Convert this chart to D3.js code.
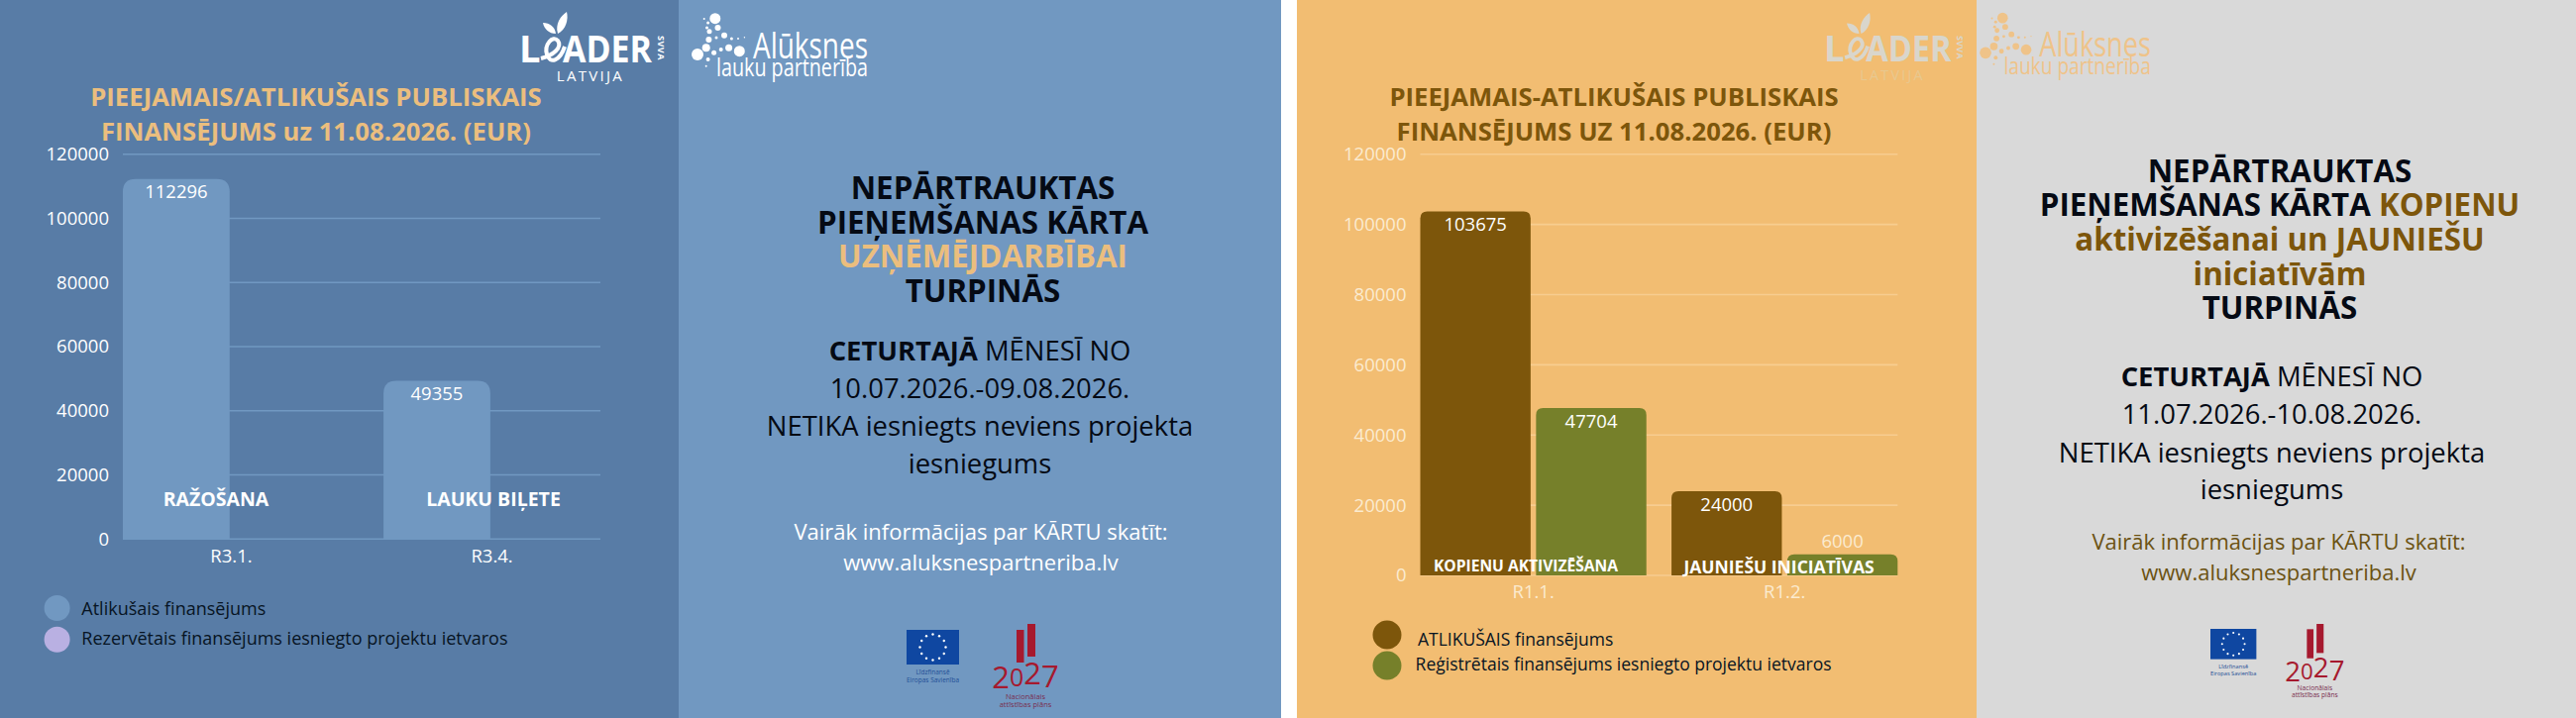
<!DOCTYPE html>
<html>
<head>
<meta charset="utf-8">
<script src="https://cdn.jsdelivr.net/npm/d3@7"></script>
<style>
  html, body { margin: 0; padding: 0; background: #fff; }
  svg { display: block; }
  text { font-family: "Open Sans", sans-serif; }
</style>
</head>
<body>
<div id="chart-container"></div>
<script>
// Data, left poster
const kartasA = ["R3.1.", "R3.4."];
const atlikusaisA = [112296, 49355];
const rezervetaisA = [0, 0];
const nosaukumiA = ["RAŽOŠANA", "LAUKU BIĻETE"];

// Data, right poster
const kartasB = ["R1.1.", "R1.2."];
const atlikusaisB = [103675, 24000];
const registretaisB = [47704, 6000];
const nosaukumiB = ["KOPIENU AKTIVIZĒŠANA", "JAUNIEŠU INICIATĪVAS"];

const yTicks = [0, 20000, 40000, 60000, 80000, 100000, 120000];

const width = 2600;
const height = 725;

const svg = d3.select("#chart-container")
    .append("svg")
    .attr("width", width)
    .attr("height", height);

// Panels
const panels = [
    { x: 0, w: 685, c: "#587ca6" },
    { x: 685, w: 608, c: "#7198c1" },
    { x: 1309, w: 686, c: "#f2bd72" },
    { x: 1995, w: 605, c: "#d9d9d9" }
];
svg.selectAll("rect.panel").data(panels).join("rect")
    .attr("class", "panel")
    .attr("x", d => d.x).attr("y", 0)
    .attr("width", d => d.w).attr("height", height)
    .attr("fill", d => d.c);

function topRounded(x, y, w, h, r) {
    r = Math.min(r, h, w / 2);
    return `M${x},${y + h}V${y + r}Q${x},${y} ${x + r},${y}H${x + w - r}Q${x + w},${y} ${x + w},${y + r}V${y + h}Z`;
}

function barChart(o) {
    const g = svg.append("g");
    const x0 = d3.scaleBand().domain(o.categories).range(o.xRange).paddingInner(o.groupGap);
    const x1 = d3.scaleBand().domain(d3.range(o.series.length)).range([0, x0.bandwidth()]).paddingInner(o.barGap);
    const y = d3.scaleLinear().domain([0, 120000]).range(o.yRange);

    // grid
    g.selectAll("line.grid").data(yTicks).join("line")
        .attr("x1", o.xRange[0]).attr("x2", o.xRange[1])
        .attr("y1", d => y(d)).attr("y2", d => y(d))
        .attr("stroke", o.gridColor).attr("stroke-width", 1.6);

    // bars
    o.series.forEach((s, i) => {
        const data = s.values.map((v, j) => ({ v, cat: o.categories[j] })).filter(d => d.v > 0);
        g.selectAll(null).data(data).join("path")
            .attr("d", d => topRounded(x0(d.cat) + x1(i), y(d.v), x1.bandwidth(), y(0) - y(d.v), o.radius))
            .attr("fill", s.color);
        g.selectAll(null).data(data).join("text")
            .attr("x", d => x0(d.cat) + x1(i) + x1.bandwidth() / 2)
            .attr("y", d => d.v < 10000 ? y(d.v) - 13 : y(d.v) + 13)
            .attr("dy", "0.36em")
            .attr("text-anchor", "middle")
            .attr("font-size", 18.5)
            .attr("fill", d => d.v < 10000 ? o.tickColor : "#fff")
            .text(d => d.v);
    });

    // axes
    const yAxis = g.append("g")
        .attr("transform", `translate(${o.xRange[0]},0)`)
        .call(d3.axisLeft(y).tickValues(yTicks).tickSize(0).tickPadding(o.yPad).tickFormat(d3.format("d")));
    const xAxis = g.append("g")
        .attr("transform", `translate(0,${o.yRange[0]})`)
        .call(d3.axisBottom(x0).tickSize(0).tickPadding(o.xPad));
    [yAxis, xAxis].forEach(a => {
        a.select(".domain").remove();
        a.selectAll("text")
            .attr("font-size", 18.5)
            .attr("font-family", "Open Sans")
            .attr("fill", o.tickColor);
    });

    // title
    g.selectAll(null).data(o.title).join("text")
        .attr("x", o.titleX)
        .attr("y", (d, i) => 98 + i * 35)
        .attr("dy", "0.36em")
        .attr("text-anchor", "middle")
        .attr("font-size", 25.7)
        .attr("font-weight", 700)
        .attr("fill", o.titleColor)
        .text(d => d);

    // labels over the bars
    g.selectAll(null).data(o.names).join("text")
        .attr("x", (d, i) => o.nameX[i])
        .attr("y", (d, i) => o.nameY[i])
        .attr("dy", "0.36em")
        .attr("text-anchor", "middle")
        .attr("font-size", (d, i) => o.nameSize[i])
        .attr("font-weight", 700)
        .attr("fill", "#fff")
        .text(d => d);

    // legend
    g.selectAll(null).data(o.series).join("ellipse")
        .attr("cx", o.legendX)
        .attr("cy", (d, i) => o.legendY[i])
        .attr("rx", o.legendR)
        .attr("ry", o.legendR)
        .attr("fill", d => d.color);
    g.selectAll(null).data(o.series).join("text")
        .attr("x", (d, i) => o.legendTextX[i])
        .attr("y", (d, i) => o.legendTextY[i])
        .attr("dy", "0.36em")
        .attr("font-size", o.legendSize)
        .attr("fill", "#071423")
        .text(d => d.name);
}

barChart({
    categories: kartasA,
    series: [
        { name: "Atlikušais finansējums", values: atlikusaisA, color: "#7198c1" },
        { name: "Rezervētais finansējums iesniegto projektu ietvaros", values: rezervetaisA, color: "#b9b0e2" }
    ],
    names: nosaukumiA,
    xRange: [124, 606], yRange: [544.3, 155.7],
    groupGap: 0.168, barGap: 0.03, radius: 13,
    gridColor: "#7198c1", tickColor: "#fff", yPad: 14, xPad: 11,
    title: ["PIEEJAMAIS/ATLIKUŠAIS PUBLISKAIS", "FINANSĒJUMS uz 11.08.2026. (EUR)"],
    titleX: 319, titleColor: "#ebbe7e",
    nameX: [218, 498], nameY: [504, 504], nameSize: [19.5, 19.5],
    legendX: 57.6, legendY: [614, 645.7], legendR: 13,
    legendTextX: [82.3, 82.3], legendTextY: [615, 645], legendSize: 18
});

barChart({
    categories: kartasB,
    series: [
        { name: "ATLIKUŠAIS finansējums", values: atlikusaisB, color: "#7d560b" },
        { name: "Reģistrētais finansējums iesniegto projektu ietvaros", values: registretaisB, color: "#76802a" }
    ],
    names: nosaukumiB,
    xRange: [1433.5, 1915.3], yRange: [581, 155.7],
    groupGap: 0.1, barGap: 0.047, radius: 7,
    gridColor: "#f7cd90", tickColor: "#fbebd0", yPad: 14, xPad: 10,
    title: ["PIEEJAMAIS-ATLIKUŠAIS PUBLISKAIS", "FINANSĒJUMS UZ 11.08.2026. (EUR)"],
    titleX: 1629, titleColor: "#7d560b",
    nameX: [1540, 1795.6], nameY: [571, 573], nameSize: [15.6, 17.5],
    legendX: 1400, legendY: [641, 672], legendR: 14.5,
    legendTextX: [1431, 1428.6], legendTextY: [645.7, 670.7], legendSize: 17.5
});

// Text blocks
const black = "#050a14";
const amber = "#ebbe7e";
const brown = "#7d560b";
const infoA = [
    { y: 190, s: 31.3, x: 992, p: [["NEPĀRTRAUKTAS", black, 700]] },
    { y: 224.5, s: 31.3, x: 992, p: [["PIEŅEMŠANAS KĀRTA", black, 700]] },
    { y: 259, s: 31.3, x: 992, p: [["UZŅĒMĒJDARBĪBAI", amber, 700]] },
    { y: 293.5, s: 31.3, x: 992, p: [["TURPINĀS", black, 700]] },
    { y: 354, s: 27.4, x: 989, p: [["CETURTAJĀ ", black, 700], ["MĒNESĪ NO", black, 400]] },
    { y: 392, s: 27.4, x: 989, p: [["10.07.2026.-09.08.2026.", black, 400]] },
    { y: 430, s: 27.4, x: 989, p: [["NETIKA iesniegts neviens projekta", black, 400]] },
    { y: 468, s: 27.4, x: 989, p: [["iesniegums", black, 400]] },
    { y: 537, s: 22, x: 990, p: [["Vairāk informācijas par KĀRTU skatīt:", "#fff", 400]] },
    { y: 568, s: 22, x: 990, p: [["www.aluksnespartneriba.lv", "#fff", 400]] }
];
const infoB = [
    { y: 172.7, s: 31.3, x: 2301, p: [["NEPĀRTRAUKTAS", black, 700]] },
    { y: 207, s: 31.3, x: 2301, p: [["PIEŅEMŠANAS KĀRTA ", black, 700], ["KOPIENU", brown, 700]] },
    { y: 241.7, s: 31.3, x: 2301, p: [["aktivizēšanai un JAUNIEŠU", brown, 700]] },
    { y: 276.7, s: 31.3, x: 2301, p: [["iniciatīvām", brown, 700]] },
    { y: 310.7, s: 31.3, x: 2301, p: [["TURPINĀS", black, 700]] },
    { y: 380, s: 27.4, x: 2293, p: [["CETURTAJĀ ", black, 700], ["MĒNESĪ NO", black, 400]] },
    { y: 418, s: 27.4, x: 2293, p: [["11.07.2026.-10.08.2026.", black, 400]] },
    { y: 456.7, s: 27.4, x: 2293, p: [["NETIKA iesniegts neviens projekta", black, 400]] },
    { y: 494, s: 27.4, x: 2293, p: [["iesniegums", black, 400]] },
    { y: 547, s: 22, x: 2300, p: [["Vairāk informācijas par KĀRTU skatīt:", "#6b5212", 400]] },
    { y: 578, s: 22, x: 2300, p: [["www.aluksnespartneriba.lv", "#6b5212", 400]] }
];

function infoBlock(lines) {
    const t = svg.append("g").selectAll("text").data(lines).join("text")
        .attr("x", d => d.x)
        .attr("y", d => d.y)
        .attr("dy", "0.36em")
        .attr("text-anchor", "middle")
        .attr("font-size", d => d.s);
    t.selectAll("tspan").data(d => d.p).join("tspan")
        .attr("fill", d => d[1])
        .attr("font-weight", d => d[2])
        .text(d => d[0]);
}
infoBlock(infoA);
infoBlock(infoB);

// LEADER logo
function leaderLogo(x, y, s, c, c2) {
    const g = svg.append("g").attr("transform", `translate(${x},${y}) scale(${s})`);
    g.append("text").attr("x", 0).attr("y", 51).attr("font-size", 38).attr("font-weight", 700).attr("fill", c).text("L");
    g.append("text").attr("x", 44).attr("y", 51).attr("font-size", 38).attr("font-weight", 700).attr("fill", c)
        .attr("textLength", 90).attr("lengthAdjust", "spacingAndGlyphs").text("ADER");
    g.append("path").attr("d", "M22 47C34 44 44 36 39 29C34 23 25 33 28 43C31 53 41 50 46 35")
        .attr("fill", "none").attr("stroke", c).attr("stroke-width", 4);
    g.append("path").attr("d", "M39 22C36 12 42 4 48 0C50 8 47 18 39 22Z").attr("fill", c);
    g.append("path").attr("d", "M37 22C30 22 25 17 24 11C31 11 36 15 37 22Z").attr("fill", c);
    g.append("text").attr("transform", "translate(140,24) rotate(90)").attr("font-size", 9).attr("font-weight", 700)
        .attr("letter-spacing", 0.5).attr("fill", c).text("SVVA");
    g.append("text").attr("x", 72).attr("y", 65).attr("dy", "0.36em").attr("text-anchor", "middle")
        .attr("font-size", 15).attr("letter-spacing", 2.3).attr("fill", c2).text("LATVIJA");
}
leaderLogo(524, 12, 1, "#fff", "#fff");
leaderLogo(1841, 13, 0.96, "#d9d6cc", "#e8c88f");

// Alūksnes logo
const bubbles = [
    [721.8, 18.7, 5.5], [724.5, 28, 3], [714.6, 23, 1.5], [710.7, 19, 1], [713.5, 28, 1.5],
    [716, 31.7, 2.5], [731, 35.7, 3], [723, 38, 1.5], [715.4, 40, 3], [738.4, 39, 1.5],
    [745, 39, 1], [751.4, 37.7, 0.7], [746.3, 51.7, 5.5], [735.6, 48.3, 3.5], [727.7, 50, 2],
    [720.6, 53.3, 2.5], [712.7, 48.3, 4], [704, 55, 6], [714.6, 60, 2], [712.7, 66.7, 1]
];
function alukLogo(tx, ty, s, c) {
    const g = svg.append("g").attr("transform", `translate(${tx},${ty}) scale(${s})`);
    g.selectAll("circle").data(bubbles).join("circle")
        .attr("cx", d => d[0] - 704).attr("cy", d => d[1]).attr("r", d => d[2]).attr("fill", c);
    g.append("text").attr("x", 56).attr("y", 59).attr("font-family", "Roboto").attr("font-weight", 400)
        .attr("font-size", 36).attr("fill", c).attr("textLength", 116)
        .attr("lengthAdjust", "spacingAndGlyphs").text("Alūksnes");
    g.append("text").attr("x", 19).attr("y", 77).attr("font-family", "Roboto").attr("font-weight", 400)
        .attr("font-size", 25).attr("fill", c).attr("textLength", 153)
        .attr("lengthAdjust", "spacingAndGlyphs").text("lauku partnerība");
}
alukLogo(704, 0, 1, "#fff");
alukLogo(2004, 0, 0.97, "#efc389");

// EU flag and national plan marks
function euLogo(x, y, s) {
    const g = svg.append("g").attr("transform", `translate(${x},${y}) scale(${s})`);
    g.append("rect").attr("width", 53).attr("height", 35).attr("fill", "#0f47a1");
    g.selectAll("circle").data(d3.range(12)).join("circle")
        .attr("cx", d => 26.5 + 13 * Math.cos(d * Math.PI / 6))
        .attr("cy", d => 17.5 + 13 * Math.sin(d * Math.PI / 6))
        .attr("r", 1.2).attr("fill", "#fff");
    g.selectAll("text").data(["Līdzfinansē", "Eiropas Savienība"]).join("text")
        .attr("x", 26.5).attr("y", (d, i) => 43 + i * 8).attr("dy", "0.36em")
        .attr("text-anchor", "middle").attr("font-size", 6.5).attr("fill", "#1f4f96").text(d => d);
}
function napLogo(x, y, s) {
    const red = "#a6192e";
    const g = svg.append("g").attr("transform", `translate(${x},${y}) scale(${s})`);
    g.append("rect").attr("x", 24).attr("y", 6).attr("width", 7.5).attr("height", 33).attr("fill", red);
    g.append("rect").attr("x", 35).attr("y", 0).attr("width", 8).attr("height", 33).attr("fill", red);
    g.append("text").attr("x", 33).attr("y", 65).attr("text-anchor", "middle")
        .attr("font-size", 31).attr("font-weight", 500).attr("fill", red)
        .selectAll("tspan").data([["2", 0, 31], ["0", -2, 25], ["2", -2, 31], ["7", 3, 31]]).join("tspan")
        .attr("dy", d => d[1]).attr("font-size", d => d[2]).text(d => d[0]);
    g.selectAll(null).data(["Nacionālais", "attīstības plāns"]).join("text")
        .attr("x", 33).attr("y", (d, i) => 73 + i * 8).attr("dy", "0.36em")
        .attr("text-anchor", "middle").attr("font-size", 7.5).attr("fill", "#7a2f50").text(d => d);
}
euLogo(915, 636, 1);
napLogo(1002, 630, 1);
euLogo(2231, 635, 0.875);
napLogo(2307, 630, 0.89);
</script>
</body>
</html>
